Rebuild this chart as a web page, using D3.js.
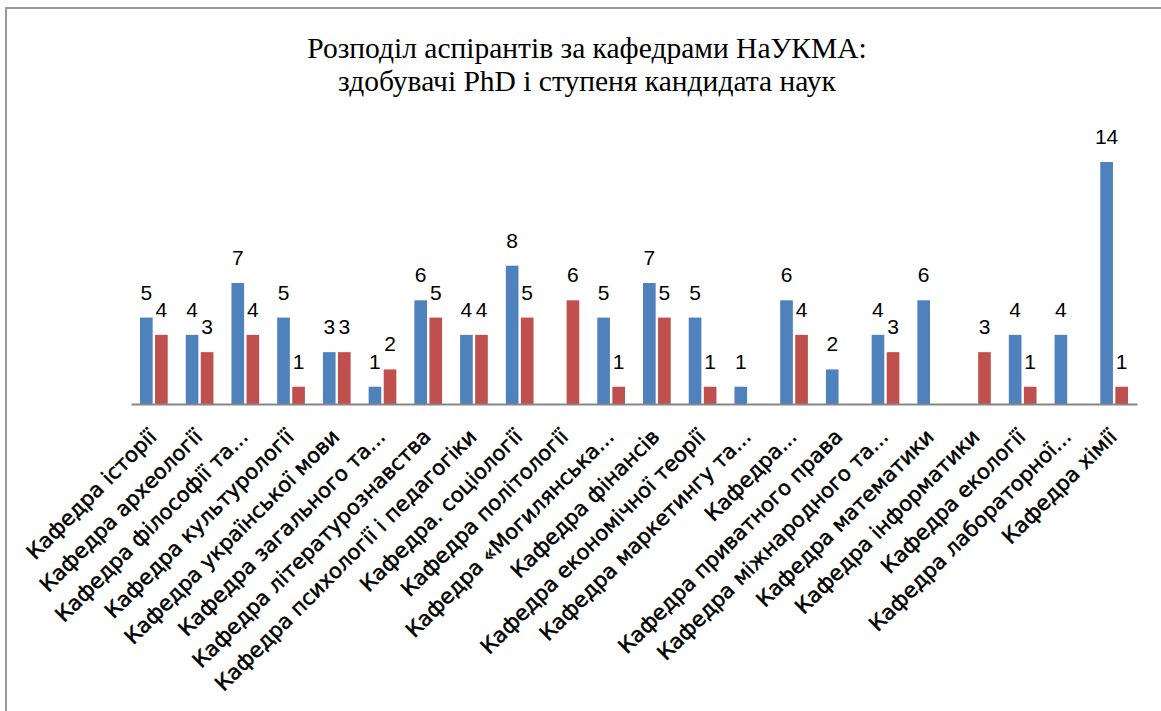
<!DOCTYPE html>
<html>
<head>
<meta charset="utf-8">
<script src="https://cdn.jsdelivr.net/npm/d3@7"></script>
<style>
  body { margin: 0; background: #fff; }
  .title { font-family: "Liberation Serif", "Times New Roman", serif; font-size: 29.5px; fill: #000; }
  .valLabel { font-family: "Liberation Sans", Arial, sans-serif; font-size: 21px; fill: #000; }
  .catLabel { font-family: "DejaVu Sans", Verdana, sans-serif; font-size: 21px; fill: #000; stroke: #000; stroke-width: 0.5px; }
</style>
</head>
<body>
<script>
var svgWidth = 1161;
var svgHeight = 711;

// departments (x axis labels)
var categories = [
    "Кафедра історії",
    "Кафедра археології",
    "Кафедра філософії та...",
    "Кафедра культурології",
    "Кафедра української мови",
    "Кафедра загального та...",
    "Кафедра літературознавства",
    "Кафедра психології і педагогіки",
    "Кафедра. соціології",
    "Кафедра політології",
    "Кафедра «Могилянська...",
    "Кафедра фінансів",
    "Кафедра економічної теорії",
    "Кафедра маркетингу та...",
    "Кафедра...",
    "Кафедра приватного права",
    "Кафедра міжнародного та...",
    "Кафедра математики",
    "Кафедра інформатики",
    "Кафедра екології",
    "Кафедра лабораторної...",
    "Кафедра хімії"
];

// blue series (PhD) and red series (candidate of sciences); null = no bar
var phdValues = [5, 4, 7, 5, 3, 1, 6, 4, 8, null, 5, 7, 5, 1, 6, 2, 4, 6, null, 4, 4, 14];
var candValues = [4, 3, 4, 1, 3, 2, 5, 4, 5, 6, 1, 5, 1, null, 4, null, 3, null, 3, 1, null, 1];

var seriesKeys = ["phd", "cand"];
var seriesColors = {phd: "#4F81BD", cand: "#C0504D"};

var titleLines = [
    "Розподіл аспірантів за кафедрами НаУКМА:",
    "здобувачі PhD і ступеня кандидата наук"
];

var rows = categories.map(function(c, i) {
    return {name: c, phd: phdValues[i], cand: candValues[i]};
});

var svg = d3.select("body")
    .append("svg")
    .attr("width", svgWidth)
    .attr("height", svgHeight);

// frame (top and left edges visible)
svg.append("path")
    .attr("d", "M6," + svgHeight + "V8H" + svgWidth)
    .attr("fill", "none")
    .attr("stroke", "#999")
    .attr("stroke-width", 2);

var plotLeft = 131, plotRight = 1137, baseY = 404, topY = 162;

var x0 = d3.scaleBand()
    .domain(categories)
    .range([plotLeft, plotRight])
    .paddingInner(0.394)
    .paddingOuter(0.197);

var x1 = d3.scaleBand()
    .domain(seriesKeys)
    .range([0, x0.bandwidth()])
    .paddingInner(0.16);

var y = d3.scaleLinear()
    .domain([0, 14])
    .range([baseY, topY]);

// title
svg.append("text")
    .attr("class", "title")
    .attr("text-anchor", "middle")
    .selectAll("tspan")
    .data(titleLines)
    .enter()
    .append("tspan")
    .attr("x", 587)
    .attr("y", function(d, i) { return 58 + i * 33; })
    .text(function(d) { return d; });

var groups = svg.selectAll("g.cat")
    .data(rows)
    .enter()
    .append("g")
    .attr("class", "cat")
    .attr("transform", function(d) { return "translate(" + x0(d.name) + ",0)"; });

var items = groups.selectAll("g.item")
    .data(function(d) {
        return seriesKeys
            .filter(function(k) { return d[k] != null; })
            .map(function(k) { return {key: k, value: d[k]}; });
    })
    .enter()
    .append("g")
    .attr("class", "item");

items.append("rect")
    .attr("x", function(d) { return x1(d.key); })
    .attr("y", function(d) { return y(d.value); })
    .attr("width", x1.bandwidth())
    .attr("height", function(d) { return baseY - y(d.value); })
    .attr("fill", function(d) { return seriesColors[d.key]; });

items.append("text")
    .attr("class", "valLabel")
    .attr("text-anchor", "middle")
    .attr("x", function(d) { return x1(d.key) + x1.bandwidth() / 2; })
    .attr("y", function(d) { return y(d.value) - 18; })
    .text(function(d) { return d.value; });

// x axis
var xAxis = d3.axisBottom(x0).tickSize(0).tickSizeOuter(0).tickPadding(0);

var axisG = svg.append("g")
    .attr("transform", "translate(0," + baseY + ")")
    .call(xAxis);

axisG.select(".domain")
    .attr("stroke", "#868686")
    .attr("stroke-width", 2);

axisG.selectAll(".tick text")
    .attr("class", "catLabel")
    .attr("font-family", null)
    .attr("font-size", null)
    .attr("fill", null)
    .attr("text-anchor", "end")
    .attr("dy", null)
    .attr("y", 0)
    .attr("transform", "translate(4,34) rotate(-45)");
</script>
</body>
</html>
